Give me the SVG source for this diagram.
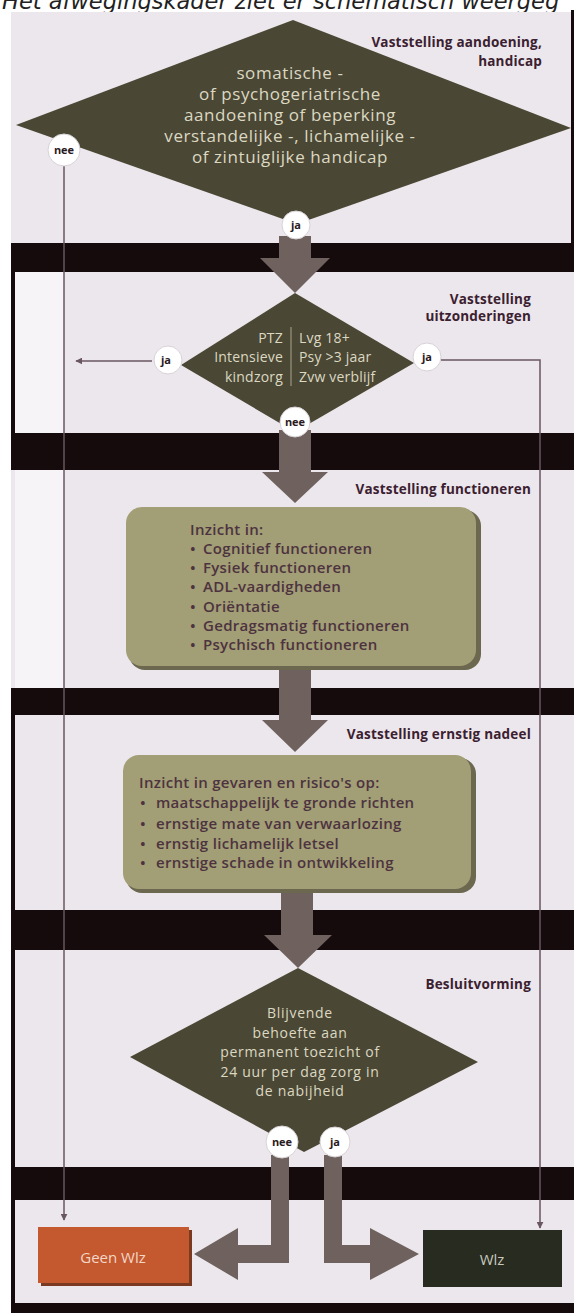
<svg xmlns="http://www.w3.org/2000/svg" width="574" height="1313" viewBox="0 0 574 1313">
<defs>
<style>
.band{fill:#150b0c}
.dia{fill:#4a4734}
.dtxt{font-family:"Open Sans","DejaVu Sans",sans-serif;fill:#dcd8c2;text-anchor:middle}
.sec{font-family:"Open Sans","DejaVu Sans",sans-serif;font-weight:bold;font-size:13.5px;letter-spacing:0.2px;fill:#3b2030;text-anchor:end}
.box{fill:#a29e75}
.shadow{fill:#6b684f}
.btxt{font-family:"Open Sans","DejaVu Sans",sans-serif;font-weight:600;font-size:15px;letter-spacing:0.3px;fill:#4d3340}
.lbl circle{fill:#ffffff;stroke:#d8d2d6;stroke-width:1}
.lbl text{font-family:"Open Sans","DejaVu Sans",sans-serif;font-weight:bold;font-size:11px;text-anchor:middle;fill:#2a1a1e}
.arrow{fill:#6f625e}
.thin{stroke:#6a5660;stroke-width:1.5;fill:none}
.border{fill:#150b0c}
</style>
<marker id="ah" viewBox="0 0 10 10" refX="9" refY="5" markerWidth="7" markerHeight="7" orient="auto" markerUnits="userSpaceOnUse">
<path d="M0,0 L10,5 L0,10 z" fill="#6a5660"/>
</marker>
</defs>

<rect width="574" height="1313" fill="#ffffff"/>
<text x="2" y="9" font-family="DejaVu Sans, sans-serif" font-size="22.5" font-style="italic" fill="#222">Het afwegingskader ziet er schematisch weergeg</text>

<g id="panel">
<rect x="11" y="12" width="563" height="1293" fill="#ebe7ec"/>
<rect x="15" y="272" width="49" height="161" fill="#f6f4f6"/>
<rect x="15" y="470" width="49" height="218" fill="#f6f4f6"/>
<rect class="band" x="11" y="243" width="563" height="29"/>
<rect class="band" x="11" y="433" width="563" height="37"/>
<rect class="band" x="11" y="688" width="563" height="27"/>
<rect class="band" x="11" y="910" width="563" height="40"/>
<rect class="band" x="11" y="1167" width="563" height="33"/>
<rect class="band" x="11" y="1303" width="563" height="10"/>
<rect class="border" x="11" y="243" width="4" height="227"/>
<rect class="border" x="11" y="688" width="4" height="617"/>
<rect class="border" x="571" y="10" width="3" height="233"/>
</g>

<g id="section-labels">
<text class="sec" x="542" y="47">Vaststelling aandoening,</text>
<text class="sec" x="542" y="66">handicap</text>
<text class="sec" x="531" y="304">Vaststelling</text>
<text class="sec" x="531" y="321">uitzonderingen</text>
<text class="sec" x="531" y="494">Vaststelling functioneren</text>
<text class="sec" x="531" y="739">Vaststelling ernstig nadeel</text>
<text class="sec" x="531" y="989">Besluitvorming</text>
</g>

<g id="connectors">
<polyline class="thin" points="64,166 64,1220" marker-end="url(#ah)"/>
<polyline class="thin" points="152,361 76,361" marker-end="url(#ah)"/>
<polyline class="thin" points="441,360 540,360 540,1228" marker-end="url(#ah)"/>
<polygon class="arrow" points="279,236 311,236 311,258 330,258 295,293 260,258 279,258"/>
<polygon class="arrow" points="279,430 311,430 311,472 328,472 295,503 262,472 279,472"/>
<polygon class="arrow" points="279,665 311,665 311,720 328,720 295,752 262,720 279,720"/>
<polygon class="arrow" points="281,890 313,890 313,935 332,935 298,968 264,935 281,935"/>
<polygon class="arrow" points="271,1155 289,1155 289,1263 238,1263 238,1280 194,1254 238,1228 238,1245 271,1245"/>
<polygon class="arrow" points="324,1155 342,1155 342,1245 370,1245 370,1228 419,1254 370,1280 370,1263 324,1263"/>
</g>

<g id="node-aandoening">
<polygon class="dia" points="293,20 571,128 297,224 16,125"/>
<g class="dtxt" font-size="17" letter-spacing="0.6">
<text x="290" y="79">somatische -</text>
<text x="290" y="100">of psychogeriatrische</text>
<text x="290" y="121">aandoening of beperking</text>
<text x="290" y="142">verstandelijke -, lichamelijke -</text>
<text x="290" y="163">of zintuiglijke handicap</text>
</g>
</g>

<g id="node-uitzonderingen">
<polygon class="dia" points="295,293 414,363 295,432 181,365"/>
<line x1="291" y1="327" x2="291" y2="386" stroke="#a8a48c" stroke-width="1"/>
<g class="dtxt" font-size="14" letter-spacing="0.2">
<text x="283" y="343" style="text-anchor:end">PTZ</text>
<text x="283" y="362" style="text-anchor:end">Intensieve</text>
<text x="283" y="382" style="text-anchor:end">kindzorg</text>
<text x="299" y="343" style="text-anchor:start">Lvg 18+</text>
<text x="299" y="362" style="text-anchor:start">Psy &gt;3 jaar</text>
<text x="299" y="382" style="text-anchor:start">Zvw verblijf</text>
</g>
</g>

<g id="node-functioneren">
<rect class="shadow" x="129" y="510" width="352" height="160" rx="16"/>
<rect class="box" x="126" y="507" width="350" height="159" rx="16"/>
<text class="btxt" x="190" y="535">Inzicht in:</text>
<text class="btxt" y="554"><tspan x="190">•</tspan><tspan x="203">Cognitief functioneren</tspan></text>
<text class="btxt" y="573"><tspan x="190">•</tspan><tspan x="203">Fysiek functioneren</tspan></text>
<text class="btxt" y="592"><tspan x="190">•</tspan><tspan x="203">ADL-vaardigheden</tspan></text>
<text class="btxt" y="612"><tspan x="190">•</tspan><tspan x="203">Oriëntatie</tspan></text>
<text class="btxt" y="631"><tspan x="190">•</tspan><tspan x="203">Gedragsmatig functioneren</tspan></text>
<text class="btxt" y="650"><tspan x="190">•</tspan><tspan x="203">Psychisch functioneren</tspan></text>
</g>

<g id="node-nadeel">
<rect class="shadow" x="126" y="758" width="350" height="135" rx="16"/>
<rect class="box" x="123" y="755" width="348" height="134" rx="16"/>
<text class="btxt" x="139" y="788">Inzicht in gevaren en risico's op:</text>
<text class="btxt" y="808"><tspan x="140">•</tspan><tspan x="156">maatschappelijk te gronde richten</tspan></text>
<text class="btxt" y="829"><tspan x="140">•</tspan><tspan x="156">ernstige mate van verwaarlozing</tspan></text>
<text class="btxt" y="849"><tspan x="140">•</tspan><tspan x="156">ernstig lichamelijk letsel</tspan></text>
<text class="btxt" y="868"><tspan x="140">•</tspan><tspan x="156">ernstige schade in ontwikkeling</tspan></text>
</g>

<g id="node-besluit">
<polygon class="dia" points="298,968 478,1062 304,1152 130,1057"/>
<g class="dtxt" font-size="14" letter-spacing="0.7">
<text x="300" y="1018">Blijvende</text>
<text x="300" y="1037.5">behoefte aan</text>
<text x="300" y="1057">permanent toezicht of</text>
<text x="300" y="1076.5">24 uur per dag zorg in</text>
<text x="300" y="1096">de nabijheid</text>
</g>
</g>

<g id="labels" class="lbl">
<circle cx="64" cy="150" r="16"/><text x="64" y="154">nee</text>
<circle cx="296" cy="225" r="14"/><text x="296" y="229">ja</text>
<circle cx="168" cy="360" r="14"/><text x="166" y="364">ja</text>
<circle cx="427" cy="357" r="14"/><text x="427" y="361">ja</text>
<circle cx="295" cy="422" r="15"/><text x="295" y="426">nee</text>
<circle cx="282" cy="1142" r="16"/><text x="282" y="1146">nee</text>
<circle cx="335" cy="1142" r="15"/><text x="335" y="1146">ja</text>
</g>

<g id="node-geen-wlz">
<rect x="41" y="1230" width="151" height="56" fill="#7a3a22"/>
<rect x="38" y="1227" width="151" height="56" fill="#c4582f"/>
<text x="113" y="1263" font-family="Open Sans, DejaVu Sans, sans-serif" font-size="15" fill="#f2d6c6" text-anchor="middle">Geen Wlz</text>
</g>

<g id="node-wlz">
<rect x="423" y="1230" width="139" height="57" fill="#272b20"/>
<text x="492" y="1265" font-family="Open Sans, DejaVu Sans, sans-serif" font-size="15" fill="#c8c8be" text-anchor="middle">Wlz</text>
</g>
</svg>
